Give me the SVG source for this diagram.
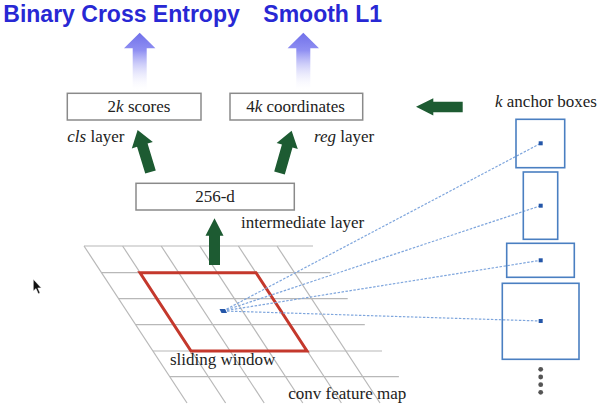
<svg xmlns="http://www.w3.org/2000/svg" width="601" height="414" viewBox="0 0 601 414">
<defs>
<linearGradient id="fade" x1="0" y1="0" x2="0" y2="1">
<stop offset="0" stop-color="#7070ea"/>
<stop offset="0.3" stop-color="#9090f2"/>
<stop offset="1" stop-color="#ffffff" stop-opacity="0"/>
</linearGradient>
</defs>
<style>
.title{font-family:"Liberation Sans",Arial,sans-serif;font-weight:bold;font-size:23px;fill:#2828d4}
.t{font-family:"Liberation Serif","Times New Roman",serif;font-size:17px;fill:#222}
.i{font-style:italic}
.box{fill:#fff;stroke:#8a8a8a;stroke-width:1.5}
.grid{stroke:#b8b8b8;stroke-width:1.2;fill:none}
.garrow{fill:#1d5b32}
.anchor{fill:none;stroke:#4a7fc1;stroke-width:1.6}
.dot{fill:#2456a8}
.link{stroke:#7fa6dd;stroke-width:1.2;stroke-dasharray:2.5,1.5;fill:none}
.more{fill:#555}
</style>
<rect width="601" height="414" fill="#fff"/>

<g id="titles">
<text class="title" x="3.3" y="21.7">Binary Cross Entropy</text>
<text class="title" x="263.3" y="21.7">Smooth L1</text>
</g>

<g id="loss-arrows">
<path d="M132.7,92 L132.7,48.3 L124,48.3 L139.7,32.7 L155.4,48.3 L146.7,48.3 L146.7,92 Z" fill="url(#fade)"/>
<path d="M296.3,92 L296.3,48.3 L287.6,48.3 L303.3,32.7 L319,48.3 L310.3,48.3 L310.3,92 Z" fill="url(#fade)"/>
</g>

<g id="feature-map">
<g class="grid">
<line x1="84" y1="246" x2="313" y2="246"/>
<line x1="101.5" y1="272.7" x2="330.5" y2="272.7"/>
<line x1="118.7" y1="298.7" x2="347.7" y2="298.7"/>
<line x1="135.8" y1="324.7" x2="364.8" y2="324.7"/>
<line x1="153" y1="351" x2="382" y2="351"/>
<line x1="169.9" y1="376.7" x2="398.9" y2="376.7"/>
<line x1="84" y1="246" x2="187" y2="403"/>
<line x1="122.6" y1="246" x2="225.6" y2="403"/>
<line x1="161.2" y1="246" x2="264.2" y2="403"/>
<line x1="199.8" y1="246" x2="302.8" y2="403"/>
<line x1="238.4" y1="246" x2="341.4" y2="403"/>
<line x1="277" y1="246" x2="380" y2="403"/>
</g>
<text class="t" x="288.3" y="399.3">conv feature map</text>
</g>

<g id="sliding-window">
<polygon points="140,272.7 256,272.7 307,351 191,351" fill="none" stroke="#c4382c" stroke-width="3" stroke-linejoin="miter"/>
<text class="t" x="170" y="365">sliding window</text>
</g>

<g id="connectors">
<line class="link" x1="223" y1="311" x2="540.7" y2="143.3"/>
<line class="link" x1="223" y1="311" x2="540.7" y2="205.7"/>
<line class="link" x1="223" y1="311" x2="540.7" y2="260.3"/>
<line class="link" x1="223" y1="311" x2="540.7" y2="321"/>
<path class="garrow" d="M-5.5,0 L-5.5,-28 L-11,-28 L0,-44 L11,-28 L5.5,-28 L5.5,0 Z" transform="translate(150.5,172) rotate(-17)"/>
<path class="garrow" d="M-5.5,0 L-5.5,-28 L-11,-28 L0,-44 L11,-28 L5.5,-28 L5.5,0 Z" transform="translate(279.5,173) rotate(16)"/>
<path class="garrow" d="M209,265 L209,235.7 L205.5,235.7 L214.5,218.3 L223.5,235.7 L220,235.7 L220,265 Z"/>
<path class="garrow" d="M462.7,101.7 L433.3,101.7 L433.3,98.3 L416,106.7 L433.3,115.4 L433.3,112.3 L462.7,112.3 Z"/>
</g>

<g id="center-dot">
<polygon class="dot" points="219.5,309 225,309 227,313 221.5,313"/>
</g>

<g id="node-256d">
<rect class="box" x="136" y="183.3" width="158.3" height="26.7"/>
<text class="t" x="215" y="202" text-anchor="middle">256-d</text>
<text class="t" x="241" y="228.3">intermediate layer</text>
</g>

<g id="node-scores">
<rect class="box" x="67.3" y="93.3" width="133.7" height="26.7"/>
<text class="t" x="139" y="112" text-anchor="middle">2<tspan class="i">k</tspan> scores</text>
<text class="t" x="67.3" y="141.7"><tspan class="i">cls</tspan> layer</text>
</g>

<g id="node-coords">
<rect class="box" x="230" y="93.3" width="132.7" height="26.7"/>
<text class="t" x="295.5" y="112" text-anchor="middle">4<tspan class="i">k</tspan> coordinates</text>
<text class="t" x="314" y="141.7"><tspan class="i">reg</tspan> layer</text>
</g>

<g id="anchors">
<text class="t" x="495" y="106.7"><tspan class="i">k</tspan> anchor boxes</text>
<rect class="anchor" x="516" y="119.3" width="48.7" height="48.4"/>
<rect class="anchor" x="523.3" y="172" width="34.4" height="67.3"/>
<rect class="anchor" x="506.7" y="243.3" width="67.6" height="34"/>
<rect class="anchor" x="502.3" y="283.3" width="76.7" height="76"/>
<rect class="dot" x="538.7" y="141.3" width="4" height="4"/>
<rect class="dot" x="538.7" y="203.7" width="4" height="4"/>
<rect class="dot" x="538.7" y="258.3" width="4" height="4"/>
<rect class="dot" x="538.7" y="319" width="4" height="4"/>
<circle class="more" cx="540.7" cy="369.3" r="2.4"/>
<circle class="more" cx="540.7" cy="377" r="2.4"/>
<circle class="more" cx="540.7" cy="384.7" r="2.4"/>
<circle class="more" cx="540.7" cy="392.3" r="2.4"/>
</g>

<g id="cursor">
<polygon points="33.3,279.3 33.3,291 36,288.6 38.3,293.8 40,293 37.8,287.9 41.3,287.9" fill="#111" stroke="#fff" stroke-width="0.5"/>
</g>
</svg>
